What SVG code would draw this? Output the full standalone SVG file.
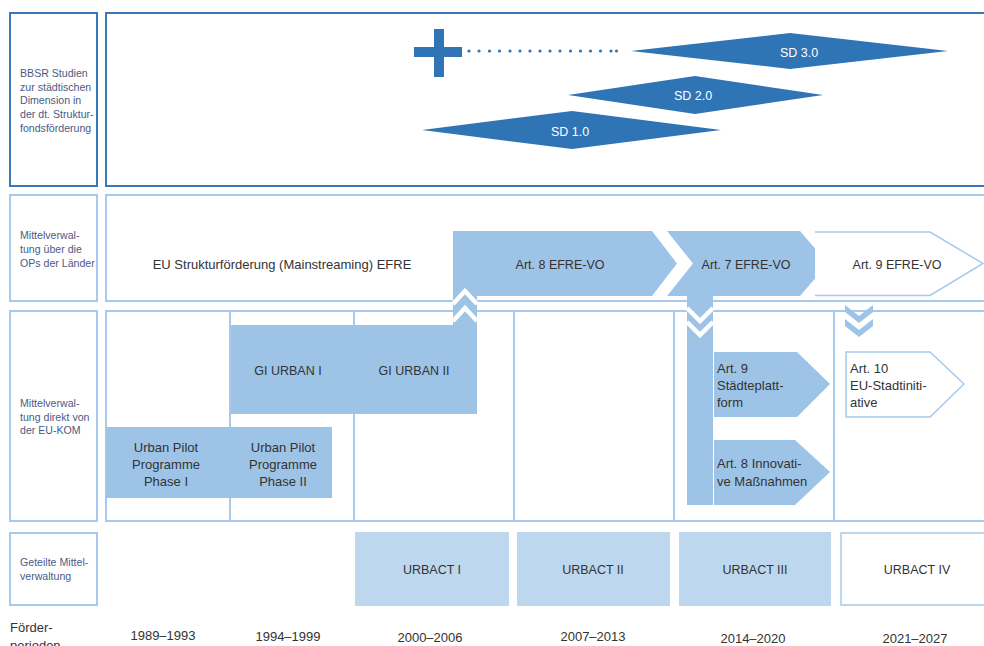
<svg xmlns="http://www.w3.org/2000/svg" width="984" height="646" viewBox="0 0 984 646">
<style>
.lbl{font-family:"Liberation Sans",Arial,sans-serif;font-size:10.6px;fill:#4b5a84}
.t{font-family:"Liberation Sans",Arial,sans-serif;font-size:12.5px;fill:#333}
.tb{font-family:"Liberation Sans",Arial,sans-serif;font-size:13px;fill:#333}
.c{text-anchor:middle}
.sd{font-family:"Liberation Sans",Arial,sans-serif;font-size:12.5px;fill:#fff;text-anchor:middle}
.fl{fill:#9dc3e6}
.ub{fill:#bdd7ee}
.lb{fill:#fff;stroke:#a7caec;stroke-width:2}
.ol{fill:#fff;stroke:#a7caec;stroke-width:1.5}
.db{fill:#fff;stroke:#3b78b8;stroke-width:2}
.dia{fill:#2f74b5}
.grid{stroke:#a7caec;stroke-width:2;fill:none}
.wch{fill:none;stroke:#fff;stroke-width:4.5}
</style>

<g id="row1">
  <rect class="db" x="10" y="13" width="87" height="173"/>
  <rect class="db" x="106" y="13" width="890" height="173"/>
  <text class="lbl" x="20" y="77">BBSR Studien</text>
  <text class="lbl" x="20" y="91">zur städtischen</text>
  <text class="lbl" x="20" y="104">Dimension in</text>
  <text class="lbl" x="20" y="118">der dt. Struktur-</text>
  <text class="lbl" x="20" y="132">fondsförderung</text>
</g>
<g id="row2">
  <rect class="lb" x="10" y="195" width="87" height="106"/>
  <rect class="lb" x="106" y="195" width="890" height="106"/>
  <text class="lbl" x="20" y="239">Mittelverwal-</text>
  <text class="lbl" x="20" y="253">tung über die</text>
  <text class="lbl" x="20" y="267">OPs der Länder</text>
</g>
<g id="row3">
  <rect class="lb" x="10" y="311" width="87" height="210"/>
  <rect class="lb" x="106" y="311" width="890" height="210"/>
  <path class="grid" d="M230,311V521M354,311V521M514,311V521M674,311V521M834,311V521"/>
  <text class="lbl" x="20" y="407">Mittelverwal-</text>
  <text class="lbl" x="20" y="421">tung direkt von</text>
  <text class="lbl" x="20" y="434">der EU-KOM</text>
</g>
<g id="row4">
  <rect class="lb" x="10" y="533" width="87" height="72"/>
  <text class="lbl" x="20" y="566">Geteilte Mittel-</text>
  <text class="lbl" x="20" y="580">verwaltung</text>
</g>

<g id="plus">
  <rect class="dia" x="414" y="47" width="48" height="10"/>
  <rect class="dia" x="434" y="29" width="10" height="48"/>
</g>
<g id="sd3">
  <polygon class="dia" points="631,51 790,33 948,51 790,69"/>
  <text class="sd" x="799" y="57">SD 3.0</text>
</g>
<g id="sd2">
  <polygon class="dia" points="568,95 695,76 823,95 695,114"/>
  <text class="sd" x="693" y="100">SD 2.0</text>
</g>
<g id="sd1">
  <polygon class="dia" points="422,130 572,111 721,130 572,149"/>
  <text class="sd" x="570" y="136">SD 1.0</text>
</g>

<g id="mainstream">
  <text class="tb c" x="282" y="269">EU Strukturförderung (Mainstreaming) EFRE</text>
</g>
<g id="art8">
  <polygon class="fl" points="453,231 652,231 677,263.5 652,296 477,296 477,414 231,414 231,325 453,325"/>
  <text class="t c" x="560" y="269">Art. 8 EFRE-VO</text>
  <text class="t c" x="288" y="375">GI URBAN I</text>
  <text class="t c" x="414" y="375">GI URBAN II</text>
</g>
<g id="art7">
  <polygon class="fl" points="667,231 800,231 828,263.5 800,296 713,296 713,505 687,505 687,296 667,296 693,263.5"/>
  <text class="t c" x="746" y="269">Art. 7 EFRE-VO</text>
</g>
<g id="art9">
  <polyline class="ol" fill="none" points="815,232 930,232 983,263.5 930,295.5 815,295.5"/>
  <text class="t c" x="897" y="269">Art. 9 EFRE-VO</text>
</g>
<g id="urbanpilot">
  <rect class="fl" x="106" y="427" width="226" height="71"/>
  <text class="tb c" x="166" y="451.5">Urban Pilot</text>
  <text class="tb c" x="166" y="468.5">Programme</text>
  <text class="tb c" x="166" y="486">Phase I</text>
  <text class="tb c" x="283" y="451.5">Urban Pilot</text>
  <text class="tb c" x="283" y="468.5">Programme</text>
  <text class="tb c" x="283" y="486">Phase II</text>
</g>
<g id="staedteplattform">
  <polygon class="fl" points="714,352 797,352 830,384 797,417 714,417"/>
  <text class="tb" x="717" y="373">Art. 9</text>
  <text class="tb" x="717" y="390">Städteplatt-</text>
  <text class="tb" x="717" y="407">form</text>
</g>
<g id="innovative">
  <polygon class="fl" points="714,440 795,440 830,472 795,505 714,505"/>
  <text class="tb" x="717" y="468">Art. 8 Innovati-</text>
  <text class="tb" x="717" y="486">ve Maßnahmen</text>
</g>
<g id="stadtinitiative">
  <polygon class="ol" points="846,352 930,352 964,384 930,417 846,417"/>
  <text class="tb" x="850" y="373">Art. 10</text>
  <text class="tb" x="850" y="390">EU-Stadtiniti-</text>
  <text class="tb" x="850" y="407">ative</text>
</g>

<g id="urbact">
  <rect class="ub" x="355" y="532" width="154" height="74"/>
  <rect class="ub" x="517" y="532" width="153" height="74"/>
  <rect class="ub" x="679" y="532" width="152" height="74"/>
  <rect class="ol" x="841" y="533" width="150" height="72"/>
  <text class="t c" x="432" y="573.5">URBACT I</text>
  <text class="t c" x="593" y="573.5">URBACT II</text>
  <text class="t c" x="755" y="573.5">URBACT III</text>
  <text class="t c" x="917" y="573.5">URBACT IV</text>
</g>

<g id="periods">
  <text class="tb" x="10" y="632">Förder-</text>
  <text class="tb" x="10" y="650">perioden</text>
  <text class="tb c" x="163" y="640">1989–1993</text>
  <text class="tb c" x="288" y="641">1994–1999</text>
  <text class="tb c" x="430" y="641.5">2000–2006</text>
  <text class="tb c" x="593" y="640.5">2007–2013</text>
  <text class="tb c" x="753" y="642.5">2014–2020</text>
  <text class="tb c" x="915" y="642.5">2021–2027</text>
</g>

<g id="connectors">
  <g fill="#2f74b5">
    <circle cx="469" cy="51" r="1.6"/><circle cx="479" cy="51" r="1.6"/><circle cx="489.5" cy="51" r="1.6"/>
    <circle cx="499.5" cy="51" r="1.6"/><circle cx="510" cy="51" r="1.6"/><circle cx="520" cy="51" r="1.6"/>
    <circle cx="530" cy="51" r="1.6"/><circle cx="540" cy="51" r="1.6"/><circle cx="550" cy="51" r="1.6"/>
    <circle cx="560" cy="51" r="1.6"/><circle cx="570.5" cy="51" r="1.6"/><circle cx="580.5" cy="51" r="1.6"/>
    <circle cx="590.5" cy="51" r="1.6"/><circle cx="600.5" cy="51" r="1.6"/><circle cx="611" cy="51" r="1.6"/>
    <circle cx="616.5" cy="51" r="1.6"/>
  </g>
  <polyline class="wch" points="453,304 465,291 477,304"/>
  <polyline class="wch" points="453,321 465,308 477,321"/>
  <polyline class="wch" points="687,308 700,321 713,308"/>
  <polyline class="wch" points="687,322 700,335 713,322"/>
  <polygon class="fl" points="845,305 859,316 873,305 873,312 859,323 845,312"/>
  <polygon class="fl" points="845,319 859,330 873,319 873,326 859,337 845,326"/>
</g>
</svg>
